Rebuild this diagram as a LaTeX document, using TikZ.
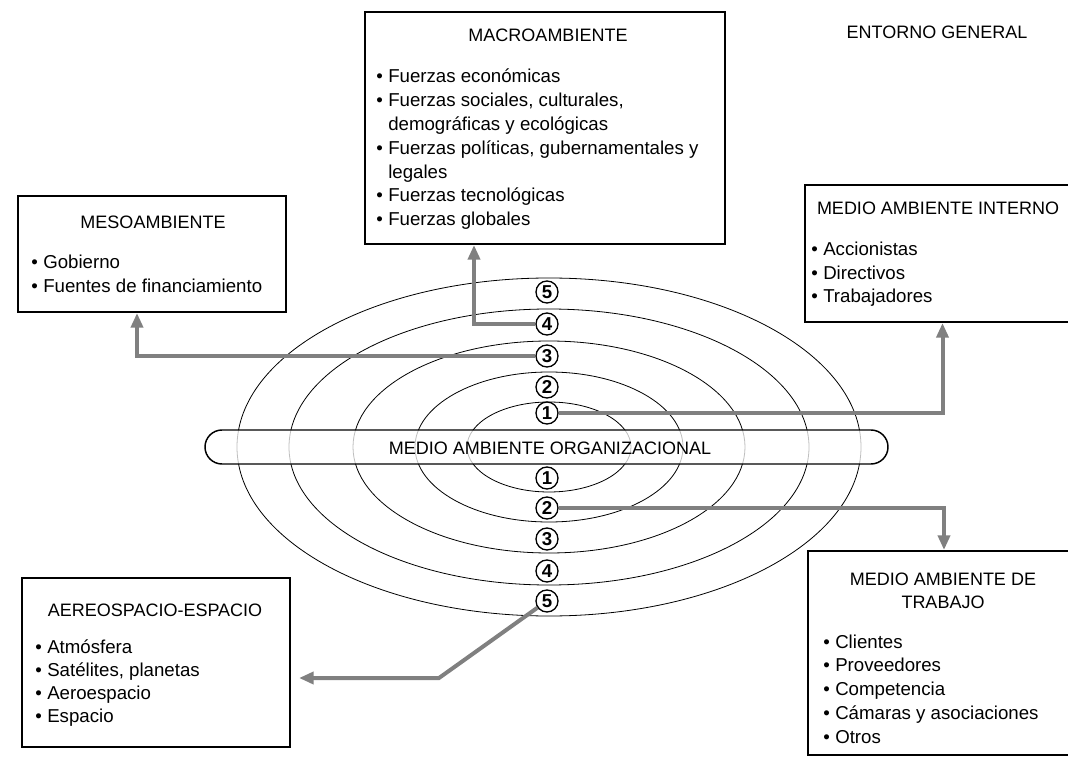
\documentclass[tikz,border=0pt]{standalone}
\usepackage{fontspec}
\setmainfont{Liberation Sans}
\usetikzlibrary{arrows.meta,fit,calc}
\pgfdeclarelayer{back}
\pgfsetlayers{back,main}
\newcommand{\bul}{\llap{\textbullet\hspace{4pt}}}

\begin{document}
\begin{tikzpicture}[x=0.75pt,y=0.75pt,yscale=-1,xscale=1,
  box/.style={draw,line width=1.5pt,inner sep=0pt},
  title/.style={inner sep=0pt,font=\fontsize{13.5}{17}\selectfont},
  item/.style={anchor=base west,inner sep=0pt,font=\fontsize{14}{17}\selectfont},
  num/.style={circle,draw,fill=white,line width=1pt,minimum size=16.5pt,inner sep=0pt,font=\fontsize{14}{14}\selectfont\bfseries},
  ring/.style={line width=0.6pt},
  conn/.style={draw=black!50,line width=3pt,-{Triangle[length=11pt,width=9pt]}}]
\useasboundingbox (0,0) rectangle (1068,777);
\clip (0,0) rectangle (1068,777);

\begin{pgfonlayer}{back}
%Shape: Ellipse
\foreach \a/\b in {82/45,134/75,196/106,260/138,312/169}
  \draw[ring] (549,447) ellipse [x radius=\a, y radius=\b];

%Shape: Rounded Rect
\node[draw,line width=1.1pt,rounded corners=12.75pt,fill=white,fill opacity=0.75,inner sep=0pt,
  fit={(205,430) (888,464)}] (org) {};
\end{pgfonlayer}
% Text Node
\node[title] (org-t) at (550,448) {MEDIO AMBIENTE ORGANIZACIONAL};

%Shape: Rectangle
\node[box,fit={(365,12) (725,244)}] (macro) {};
\node[box,fit={(18,196) (286,312)}] (meso) {};
\node[box,fit={(805,185) (1080,322)}] (interno) {};
\node[box,fit={(808,551) (1080,755)}] (trabajo) {};
\node[box,fit={(22,578) (290,747)}] (aereo) {};

%Shape: Circle
\foreach \n/\y in {5/292,4/324,3/356,2/387,1/413}
  \node[num] (t\n) at (547,\y) {\n};
\foreach \n/\y in {1/478,2/508,3/539,4/571,5/601}
  \node[num] (b\n) at (547,\y) {\n};

\begin{pgfonlayer}{back}
%Straight Lines
\draw[conn] (t1.east) -| (interno.south);
\draw[conn] (b2.east) -| (trabajo.north);
\draw[conn] (t4.west) -| ($(macro.south west)+(110,0)$);
\draw[conn] (t3.west) -| ($(meso.south west)+(120,0)$);
\coordinate (bend5) at (439,678);
\draw[conn] (b5.215) -- (bend5) -- ($(bend5 -| aereo.east)+(8,0)$);
\end{pgfonlayer}

% Text Node
\node[title] (entorno) at (937,32) {ENTORNO GENERAL};
% Text Node
\node[title] (macro-t) at (548,35) {MACROAMBIENTE};
\foreach \t [count=\i from 0] in {{\bul Fuerzas económicas},{\bul Fuerzas sociales, culturales,},{demográficas y ecológicas},{\bul Fuerzas políticas, gubernamentales y},{legales},{\bul Fuerzas tecnológicas},{\bul Fuerzas globales}}
  \node[item] (macro-\i) at (388,83+23.8*\i) {\t};
% Text Node
\node[title] (meso-t) at (153,222) {MESOAMBIENTE};
\foreach \t [count=\i from 0] in {Gobierno,Fuentes de financiamiento}
  \node[item] (meso-\i) at (43,269+24*\i) {\bul\t};
% Text Node
\node[title] (interno-t) at (938,208) {MEDIO AMBIENTE INTERNO};
\foreach \t [count=\i from 0] in {Accionistas,Directivos,Trabajadores}
  \node[item] (interno-\i) at (823,256+23.5*\i) {\bul\t};
% Text Node
\node[title,align=center] (trabajo-t) at (943,591) {MEDIO AMBIENTE DE\\TRABAJO};
\foreach \t [count=\i from 0] in {Clientes,Proveedores,Competencia,Cámaras y asociaciones,Otros}
  \node[item] (trabajo-\i) at (835,648+23.8*\i) {\bul\t};
% Text Node
\node[title] (aereo-t) at (155,610) {AEREOSPACIO-ESPACIO};
\foreach \t [count=\i from 0] in {Atmósfera,{Satélites, planetas},Aeroespacio,Espacio}
  \node[item] (aereo-\i) at (47,653+23.3*\i) {\bul\t};

\end{tikzpicture}
\end{document}
